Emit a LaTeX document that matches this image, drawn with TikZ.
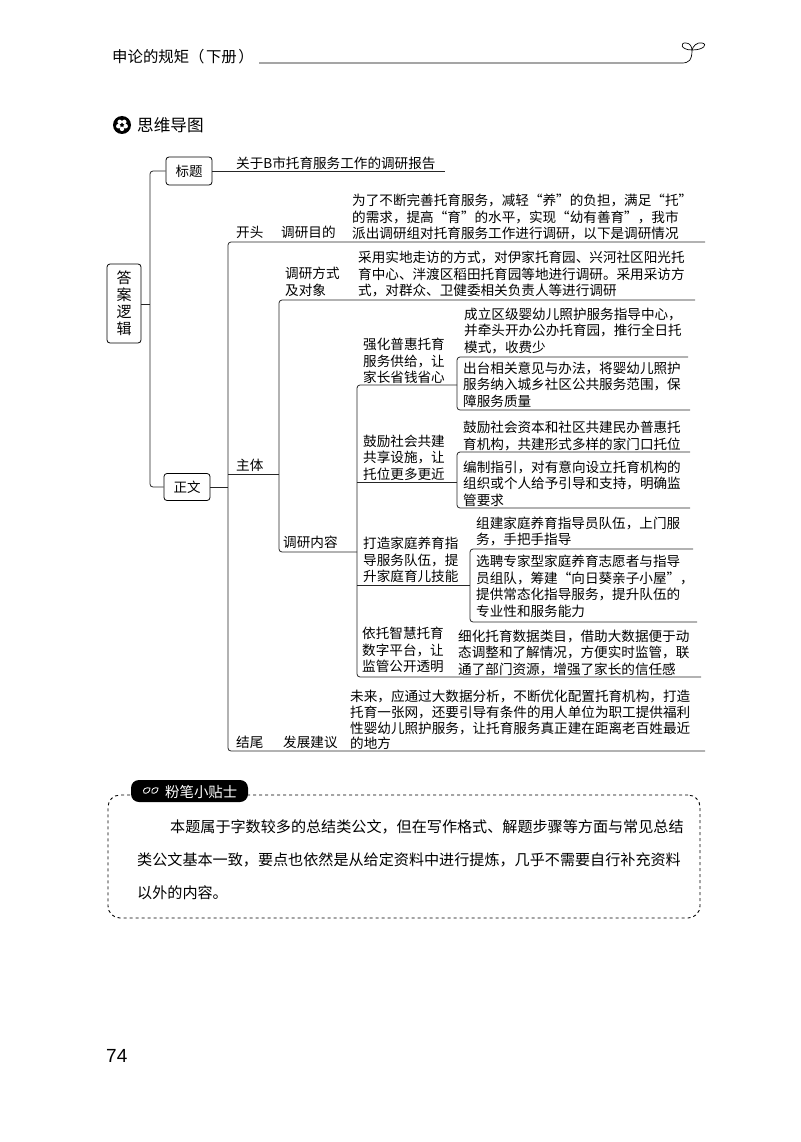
\documentclass[tikz,border=0pt]{standalone}
\usepackage{fontspec}
\setmainfont{Noto Sans CJK SC}
\newfontfamily\numfont{Liberation Sans}
\begin{document}
\begin{tikzpicture}[x=1pt,y=-1pt,
  every node/.style={inner sep=0pt},
  txt/.style={anchor=west,align=left,font=\fontsize{13.6}{16.5}\selectfont},
  tag/.style={draw,line width=0.8pt,rounded corners=3pt,align=center,font=\fontsize{13.5}{17}\selectfont},
  tipline/.style={anchor=west,font=\fontsize{15.1}{20}\selectfont},
  link/.style={line width=0.8pt,rounded corners=3pt,black!85}]
\useasboundingbox (0,0) rectangle (800,1142);

% page head
\node[anchor=west,font=\fontsize{15.4}{18}\selectfont] (head) at (112,57) {申论的规矩（\hspace{1.5pt}下册\hspace{1.5pt}）};
\coordinate (sprout) at (692,50);
\draw[line width=0.7pt] (head.east |- 0,63) ++(5,0) -- (682,63) .. controls (689,63) and (692,60) .. (sprout);
\draw[line width=0.7pt] (sprout) .. controls (680,50) and (680,42) .. (686,43) .. controls (690,43) and (692,47) .. (sprout);
\draw[line width=0.7pt] (sprout) .. controls (704,50) and (708,44) .. (702,43) .. controls (697,42) and (693,46) .. (sprout);

\node[circle,fill=black,minimum size=18pt] (icon) at (122,125) {};
\foreach \a in {90,162,234,306,378}
  \fill[white] (icon) ++(\a:3.8) circle (2.3);
\fill (icon) circle (1.7);
\node[anchor=west,font=\fontsize{16.6}{20}\selectfont] (mapname) at (137,125) {思维导图};

% first level
\node[tag,minimum width=34pt,minimum height=79pt,font=\fontsize{15}{17}\selectfont] (root) at (124,303.5) {答\\案\\逻\\辑};
\node[tag,minimum width=46pt,minimum height=28pt] (biaoti) at (189,171) {标题};
\node[tag,minimum width=46pt,minimum height=27pt] (zhengwen) at (187,487) {正文};
\coordinate (trunk) at (150,304);
\draw[link] (biaoti.west) -| (trunk) |- (zhengwen.west);
\draw[link] (root.east |- trunk) -- (trunk);

\coordinate (titleend) at (445,171);
\draw[link] (biaoti.east) -- (titleend);
\node[txt] (titletext) at (236,163) {关于B市托育服务工作的调研报告};

% second level
\coordinate (stem) at (228,487);
\coordinate (kaitouend) at (705,242);
\coordinate (jieweiend) at (705,751);
\coordinate (zhutiend) at (279,474);
\draw[link] (zhengwen.east) -- (stem);
\draw[link] (kaitouend) -| (stem) |- (jieweiend);
\draw[link] (stem |- zhutiend) -- (zhutiend);
\node[txt] (kaitou) at (236,232) {开头};
\node[txt] (mudi) at (281,232) {调研目的};
\node[txt] (zhuti) at (236,465) {主体};
\node[txt] (jiewei) at (236,742) {结尾};
\node[txt] (jianyi) at (283,742) {发展建议};
\node[txt] (mudibody) at (352,217) {为了不断完善托育服务，减轻“养”的负担，满足“托”\\的需求，提高“育”的水平，实现“幼有善育”，我市\\派出调研组对托育服务工作进行调研，以下是调研情况};
\node[txt,font=\fontsize{13.6}{15.8}\selectfont] (jianyibody) at (350,720) {未来，应通过大数据分析，不断优化配置托育机构，打造\\托育一张网，还要引导有条件的用人单位为职工提供福利\\性婴幼儿照护服务，让托育服务真正建在距离老百姓最近\\的地方};

% third level
\coordinate (fangshiend) at (695,300);
\coordinate (neirongend) at (357,552);
\draw[link] (fangshiend) -| (zhutiend) |- (neirongend);
\node[txt] (fangshi) at (285,282) {调研方式\\及对象};
\node[txt] (neirong) at (283,542) {调研内容};
\node[txt] (fangshibody) at (358,274) {采用实地走访的方式，对伊家托育园、兴河社区阳光托\\育中心、泮渡区稻田托育园等地进行调研。采用采访方\\式，对群众、卫健委相关负责人等进行调研};

% fourth level
\coordinate (firstbr) at (457,385);
\coordinate (secondbr) at (457,482);
\coordinate (thirdbr) at (470,585);
\coordinate (lastend) at (701,677);
\coordinate (zhi) at (357,385);
\draw[link] (firstbr) -- (zhi) |- (lastend);
\draw[link] (zhi |- secondbr) -- (secondbr);
\draw[link] (zhi |- thirdbr) -- (thirdbr);
\coordinate (firsttop) at (688,357);
\coordinate (firstlow) at (690,410);
\coordinate (secondtop) at (690,452);
\coordinate (secondlow) at (690,508);
\coordinate (thirdtop) at (693,549);
\coordinate (thirdlow) at (697,622);
\draw[link] (firsttop) -| (firstbr) |- (firstlow);
\draw[link] (secondtop) -| (secondbr) |- (secondlow);
\draw[link] (thirdtop) -| (thirdbr) |- (thirdlow);

\node[txt] (puhui) at (363,361) {强化普惠托育\\服务供给，让\\家长省钱省心};
\node[txt] (gongjian) at (363,457.5) {鼓励社会共建\\共享设施，让\\托位更多更近};
\node[txt] (jiating) at (363,560) {打造家庭养育指\\导服务队伍，提\\升家庭育儿技能};
\node[txt] (zhihui) at (362,650) {依托智慧托育\\数字平台，让\\监管公开透明};
\node[txt] (puhuia) at (464,330.5) {成立区级婴幼儿照护服务指导中心，\\并牵头开办公办托育园，推行全日托\\模式，收费少};
\node[txt] (puhuib) at (463,384.5) {出台相关意见与办法，将婴幼儿照护\\服务纳入城乡社区公共服务范围，保\\障服务质量};
\node[txt] (gongjiana) at (463,436) {鼓励社会资本和社区共建民办普惠托\\育机构，共建形式多样的家门口托位};
\node[txt] (gongjianb) at (463,483.5) {编制指引，对有意向设立托育机构的\\组织或个人给予引导和支持，明确监\\管要求};
\node[txt] (jiatinga) at (476,531.5) {组建家庭养育指导员队伍，上门服\\务，手把手指导};
\node[txt] (jiatingb) at (476,586.5) {选聘专家型家庭养育志愿者与指导\\员组队，筹建“向日葵亲子小屋”，\\提供常态化指导服务，提升队伍的\\专业性和服务能力};
\node[txt] (zhihuia) at (458,652.5) {细化托育数据类目，借助大数据便于动\\态调整和了解情况，方便实时监管，联\\通了部门资源，增强了家长的信任感};

% tip box
\node[draw,dashed,line width=0.9pt,rounded corners=12pt,minimum width=592pt,minimum height=123pt] (tipbox) at (404,856.5) {};
\node[fill=black,rounded corners=8pt,minimum width=117pt,minimum height=22pt] (tippill) at (189.5,791) {};
\node[anchor=west,text=white,font=\fontsize{14.4}{17}\selectfont] (tiplabel) at (165,792) {粉笔小贴士};
\draw[white,line width=0.8pt] (144,793) .. controls (142,789) and (146,787) .. (150,788) .. controls (150,792) and (147,794) .. cycle;
\draw[white,line width=0.8pt] (152,793) .. controls (151,789) and (154,787) .. (158,788) .. controls (158,792) and (155,794) .. cycle;
\node[tipline] (tipa) at (170,827) {本题属于字数较多的总结类公文，但在写作格式、解题步骤等方面与常见总结};
\node[tipline] (tipb) at (137,860) {类公文基本一致，要点也依然是从给定资料中进行提炼，几乎不需要自行补充资料};
\node[tipline] (tipc) at (137,893) {以外的内容。};

\node[anchor=west,font=\numfont\fontsize{19}{22}\selectfont] (pageno) at (106,1056) {74};
\end{tikzpicture}
\end{document}
